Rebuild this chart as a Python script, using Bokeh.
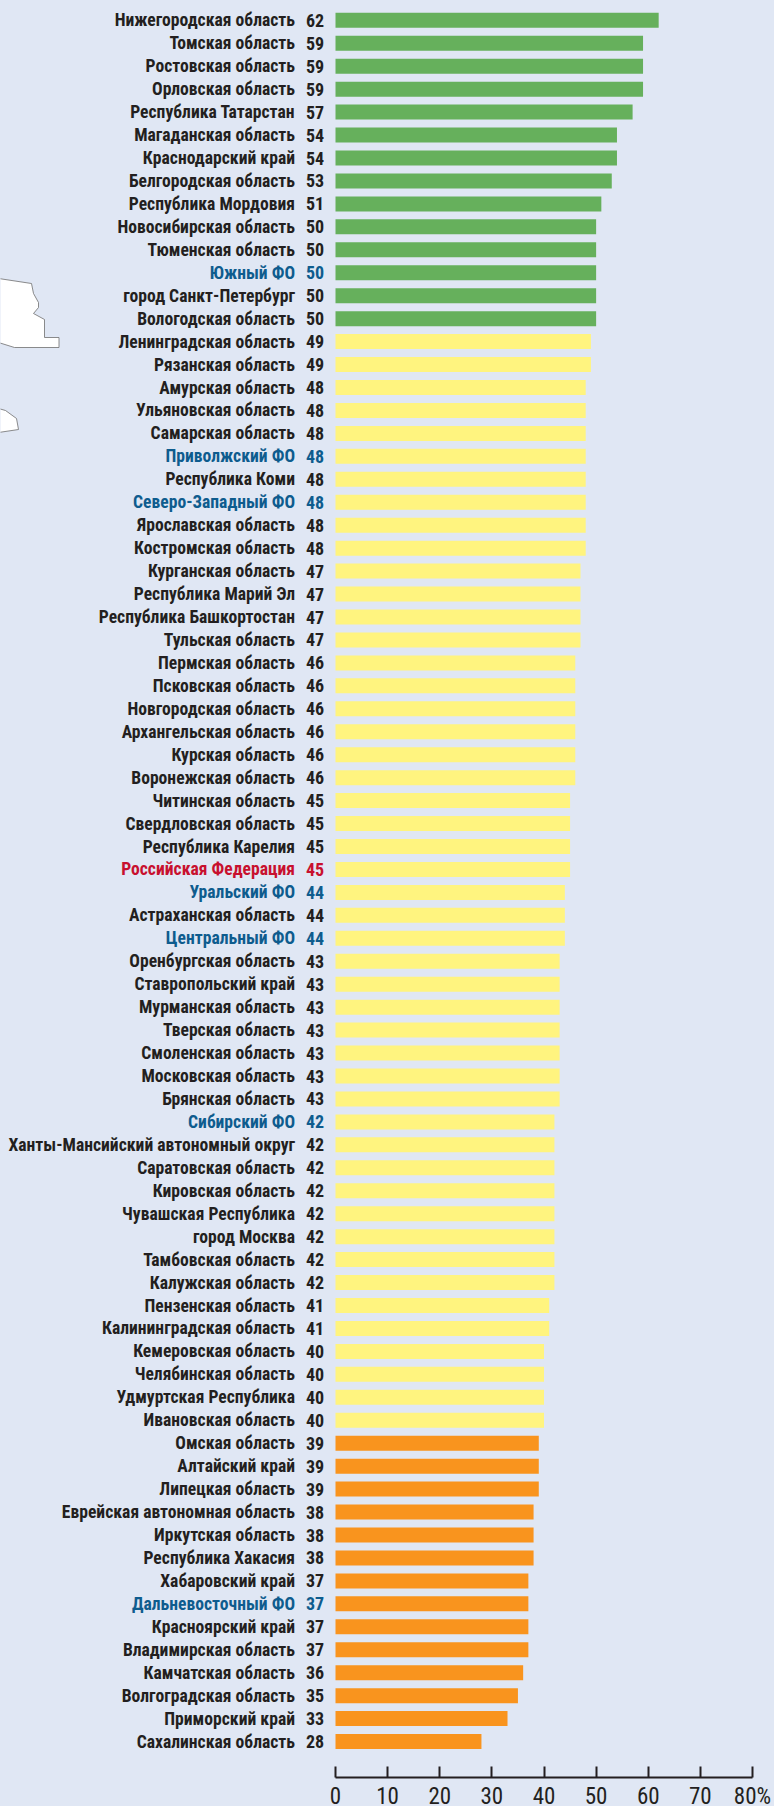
from bokeh.plotting import figure
from bokeh.models import ColumnDataSource, Range1d, FixedTicker, LinearAxis
from bokeh.core.properties import value
from bokeh.embed import file_html
from bokeh.resources import INLINE

regions = ["Нижегородская область","Томская область","Ростовская область","Орловская область","Республика Татарстан",
"Магаданская область","Краснодарский край","Белгородская область","Республика Мордовия","Новосибирская область",
"Тюменская область","Южный ФО","город Санкт-Петербург","Вологодская область","Ленинградская область","Рязанская область",
"Амурская область","Ульяновская область","Самарская область","Приволжский ФО","Республика Коми","Северо-Западный ФО",
"Ярославская область","Костромская область","Курганская область","Республика Марий Эл","Республика Башкортостан",
"Тульская область","Пермская область","Псковская область","Новгородская область","Архангельская область","Курская область",
"Воронежская область","Читинская область","Свердловская область","Республика Карелия","Российская Федерация","Уральский ФО",
"Астраханская область","Центральный ФО","Оренбургская область","Ставропольский край","Мурманская область","Тверская область",
"Смоленская область","Московская область","Брянская область","Сибирский ФО","Ханты-Мансийский автономный округ",
"Саратовская область","Кировская область","Чувашская Республика","город Москва","Тамбовская область","Калужская область",
"Пензенская область","Калининградская область","Кемеровская область","Челябинская область","Удмуртская Республика",
"Ивановская область","Омская область","Алтайский край","Липецкая область","Еврейская автономная область","Иркутская область",
"Республика Хакасия","Хабаровский край","Дальневосточный ФО","Красноярский край","Владимирская область","Камчатская область",
"Волгоградская область","Приморский край","Сахалинская область"]
values = [62,59,59,59,57,54,54,53,51,50,50,50,50,50,49,49,48,48,48,48,48,48,48,48,47,47,47,47,46,46,46,46,46,46,45,45,45,45,44,
44,44,43,43,43,43,43,43,43,42,42,42,42,42,42,42,42,41,41,40,40,40,40,39,39,39,38,38,38,37,37,37,37,36,35,33,28]
ticks = [0,10,20,30,40,50,60,70,80]
tick_labels = {0:"0",10:"10",20:"20",30:"30",40:"40",50:"50",60:"60",70:"70",80:"80%"}

BG = "#E0E7F4"
GREEN, YELLOW, ORANGE = "#66B05C", "#FFF47F", "#F9941E"
INK, BLUE, RED = "#231F20", "#0E5C8E", "#C8102E"
FONT = "Roboto Condensed"

W, FRAME_H = 774, 1777
X0, PX_PER_UNIT = 335.0, 5.2125
ROW0, ROW_STEP = 19.8, 22.95

def bar_colour(v):
    return GREEN if v >= 50 else (YELLOW if v >= 40 else ORANGE)

def text_colour(name):
    if name == "Российская Федерация":
        return RED
    return BLUE if name.endswith("ФО") else INK

rows = list(range(len(regions)))
src = ColumnDataSource(dict(
    y=rows, v=values, name=regions, label=[str(v) for v in values], zero=[0]*len(rows),
    bar=[bar_colour(v) for v in values], ink=[text_colour(n) for n in regions],
))

p = figure(frame_width=W, frame_height=FRAME_H, output_backend="svg", toolbar_location=None,
           x_range=Range1d(-X0/PX_PER_UNIT, (W-X0)/PX_PER_UNIT),
           y_range=Range1d((FRAME_H-ROW0)/ROW_STEP, -ROW0/ROW_STEP),
           x_axis_type=None, y_axis_type=None,
           min_border_left=0, min_border_right=0, min_border_top=0, min_border_bottom=0,
           background_fill_color=BG, border_fill_color=BG, outline_line_color=None)
p.grid.visible = False

# decorative map fragments, in page pixels
p.extra_x_ranges["page"] = Range1d(0, W)
p.extra_y_ranges["page"] = Range1d(FRAME_H, 0)
map_a_x = [-2,31,33,38,38,33,44,44,58.5,58.5,14,-2]
map_a_y = [278,283,293,302,307,313,319,337,337,347,347,342]
map_b_x = [-2,5,16,18,-2]
map_b_y = [408,410,418,429,432]
for mx, my in ((map_a_x, map_a_y), (map_b_x, map_b_y)):
    p.patch(mx, my, x_range_name="page", y_range_name="page",
            fill_color="white", line_color="#6F6F6F", line_width=0.8)

p.hbar(y="y", left=0, right="v", height=15/ROW_STEP, fill_color="bar", line_color=None, source=src)

p.text(x="zero", y="y", text="name", source=src, x_offset=-40.5, text_align="right", text_baseline="middle",
       text_color="ink", text_font=value(FONT), text_font_style="bold", text_font_size="17.6px")
p.text(x="zero", y="y", text="label", source=src, x_offset=-20.5, text_align="center", text_baseline="middle",
       text_color="ink", text_font=value(FONT), text_font_style="bold", text_font_size="18px")

ax = LinearAxis(ticker=FixedTicker(ticks=ticks), major_label_overrides=tick_labels, bounds=(0, 80))
ax.axis_line_color = INK
ax.axis_line_width = 2
ax.major_tick_line_color = INK
ax.major_tick_line_width = 2
ax.major_tick_in = 11
ax.major_tick_out = 0
ax.minor_tick_line_color = None
ax.major_label_standoff = 5
ax.major_label_text_font = FONT
ax.major_label_text_font_size = "23px"
ax.major_label_text_color = INK
p.add_layout(ax, "below")

html = file_html(p, INLINE).replace("<head>", "<head><style>html,body{margin:0;background:%s;overflow:hidden}</style>" % BG, 1)
open("out.html", "w").write(html)
